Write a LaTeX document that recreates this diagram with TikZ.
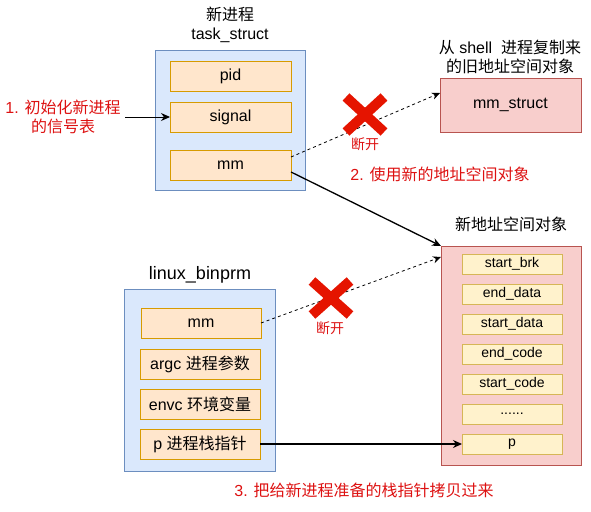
\documentclass[tikz,border=0pt]{standalone}
\usepackage{fontspec}
\setmainfont{Liberation Sans}
\newfontfamily\cjk{Noto Sans CJK SC}
\usetikzlibrary{arrows.meta,calc}
\definecolor{bluefill}{HTML}{DAE8FC}
\definecolor{bluedraw}{HTML}{6C8EBF}
\definecolor{orfill}{HTML}{FFE6CC}
\definecolor{ordraw}{HTML}{D79B00}
\definecolor{pkfill}{HTML}{F8CECC}
\definecolor{pkdraw}{HTML}{B85450}
\definecolor{yefill}{HTML}{FFF2CC}
\definecolor{yedraw}{HTML}{D6B656}
\definecolor{redtxt}{HTML}{DD1111}
\definecolor{redx}{HTML}{E51400}
\begin{document}
\begin{tikzpicture}[x=1pt,y=-1pt,
  every node/.style={inner sep=0pt,outer sep=0pt,font=\fontsize{16}{19.5}\selectfont},
  outerbox/.style={draw=bluedraw,fill=bluefill,line width=0.8pt},
  field/.style={draw=ordraw,fill=orfill,line width=0.8pt,minimum width=121pt,minimum height=30pt},
  pinkbox/.style={draw=pkdraw,fill=pkfill,line width=0.8pt},
  ybox/.style={draw=yedraw,fill=yefill,line width=0.8pt,minimum width=100pt,minimum height=20pt,font=\fontsize{14}{16}\selectfont},
  redlabel/.style={text=redtxt,align=center},
  arr/.style={line width=1.3pt,-{Stealth[length=9pt,width=8pt]}},
  darr/.style={line width=0.8pt,dashed,dash pattern=on 3pt off 3pt,-{Stealth[length=8pt,width=7pt]}},
  xbar/.style={draw=redx,line width=10pt}
]
\useasboundingbox (0,0) rectangle (591,511);

% task_struct
\node[align=center] (ttitle) at (230,25) {{\cjk 新进程}\\task\_struct};
\node[outerbox,minimum width=150pt,minimum height=140pt] (tbox) at (230,120) {};
\node[field] (tpid) at (230.5,76) {pid};
\node[field] (tsig) at (230.5,117) {signal};
\node[field] (tmm) at (230.5,165) {mm};

\node[redlabel] (lab1) at (63,117) {1. {\cjk 初始化新进程}\\{\cjk 的信号表}};
\coordinate (a1) at (125,117);
\draw[arr,line width=1pt] (a1) -- (tsig.west);

% old mm_struct
\node[align=center] (otitle) at (510,57) {{\cjk 从} shell\ \ {\cjk 进程复制来}\\{\cjk 的旧地址空间对象}};
\node[pinkbox,minimum width=141pt,minimum height=54pt] (oms) at (510.5,105) {mm\_struct};

% new address space
\node (ntitle) at (511,224) {\cjk 新地址空间对象};
\node[pinkbox,minimum width=140pt,minimum height=219pt] (nbox) at (511,355.5) {};
\node[ybox] (n1) at (512,264) {start\_brk};
\node[ybox] (n2) at (512,294) {end\_data};
\node[ybox] (n3) at (512,324) {start\_data};
\node[ybox] (n4) at (512,354) {end\_code};
\node[ybox] (n5) at (512,384) {start\_code};
\node[ybox] (n6) at (512,414) {......};
\node[ybox] (np) at (512,444) {p};

% linux_binprm
\node[font=\fontsize{18}{21}\selectfont] (btitle) at (200,275) {linux\_binprm};
\node[outerbox,minimum width=151pt,minimum height=182pt] (bbox) at (199.5,380) {};
\node[field,minimum width=120pt] (bmm) at (201,323) {mm};
\node[field,minimum width=120pt] (bargc) at (200,364) {argc {\cjk 进程参数}};
\node[field,minimum width=120pt] (benvc) at (200,404) {envc {\cjk 环境变量}};
\node[field,minimum width=120pt] (bp) at (200,444) {p {\cjk 进程栈指针}};

% connectors
\draw[darr] ($(tmm.east)+(0,-8)$) -- ($(oms.west)+(0,-12)$);
\draw[arr] ($(tmm.east)+(0,7)$) -- (nbox.north west);
\draw[darr] (bmm.east) -- ($(nbox.north west)+(0,11)$);
\draw[arr] (bp.east) -- (np.west);

% red X marks
\draw[xbar] (346,97) -- (384,132);
\draw[xbar] (384,97) -- (346,132);
\node[redlabel,font=\fontsize{14}{16}\selectfont\cjk] (cut1) at (365,144) {断开};
\draw[xbar] (312,281) -- (350,315);
\draw[xbar] (350,281) -- (312,315);
\node[redlabel,font=\fontsize{14}{16}\selectfont\cjk] (cut2) at (330,328) {断开};

\node[redlabel] (lab2) at (440,174) {2. {\cjk 使用新的地址空间对象}};
\node[redlabel] (lab3) at (364,490) {3. {\cjk 把给新进程准备的栈指针拷贝过来}};
\end{tikzpicture}
\end{document}
